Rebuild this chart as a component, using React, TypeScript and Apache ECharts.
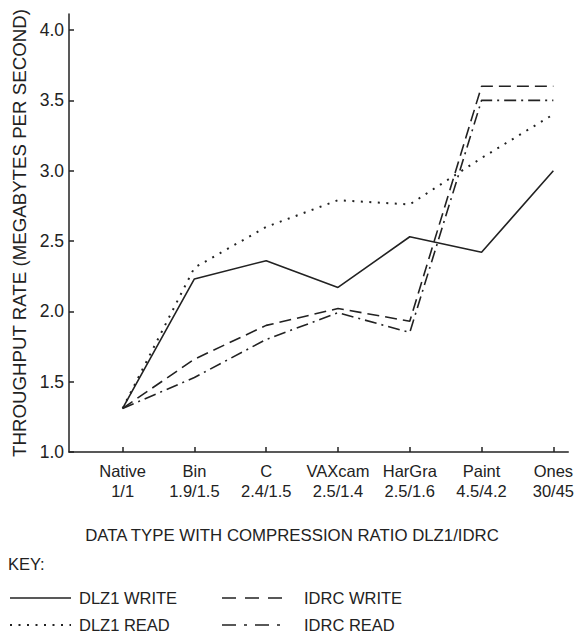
import React, { useEffect, useRef } from "react";
import * as echarts from "echarts";

const categories = ["Native", "Bin", "C", "VAXcam", "HarGra", "Paint", "Ones"];
const ratios = ["1/1", "1.9/1.5", "2.4/1.5", "2.5/1.4", "2.5/1.6", "4.5/4.2", "30/45"];
const yTicks = [1.0, 1.5, 2.0, 2.5, 3.0, 3.5, 4.0];

const seriesNames = ["DLZ1 WRITE", "DLZ1 READ", "IDRC WRITE", "IDRC READ"];
const dlz1Write = [1.31, 2.23, 2.36, 2.17, 2.53, 2.42, 3.0];
const dlz1Read = [1.31, 2.31, 2.6, 2.79, 2.76, 3.09, 3.4];
const idrcWrite = [1.31, 1.66, 1.9, 2.02, 1.93, 3.6, 3.6];
const idrcRead = [1.31, 1.53, 1.8, 1.99, 1.85, 3.5, 3.5];

const yTitle = "THROUGHPUT RATE (MEGABYTES PER SECOND)";
const xTitle = "DATA TYPE WITH COMPRESSION RATIO DLZ1/IDRC";
const keyTitle = "KEY:";

const FONT = '"Liberation Sans", Arial, Helvetica, sans-serif';
const INK = "#222";
const dashPatterns: number[][] = [[], [2, 6.5], [12, 6], [12, 5, 2, 5]];
const seriesWidths = [1.6, 2, 1.6, 1.6];
const legendDashPatterns: number[][] = [[], [2, 6.5], [14, 9], [14, 8, 3, 8]];

export default function App() {
  const ref = useRef<HTMLDivElement>(null);
  useEffect(() => {
    if (!ref.current) return;
    const chart = echarts.init(ref.current, undefined, { renderer: "svg" });
    const allValues = [dlz1Write, dlz1Read, idrcWrite, idrcRead];
    const idx = categories.map((_, i) => i);

    const legendItems: any[] = [];
    const legendPos = [
      { x: 10, y: 598 },
      { x: 10, y: 625 },
      { x: 222, y: 598 },
      { x: 222, y: 625 },
    ];
    seriesNames.forEach((name, i) => {
      const p = legendPos[i];
      const dash = legendDashPatterns[i];
      legendItems.push({
        type: "line",
        shape: { x1: p.x, y1: p.y, x2: p.x + 61, y2: p.y },
        style: {
          stroke: INK,
          lineWidth: seriesWidths[i],
          lineDash: dash.length ? dash : null,
        },
      });
      legendItems.push({
        type: "text",
        x: i < 2 ? p.x + 69 : p.x + 82,
        y: p.y,
        style: {
          text: name,
          font: `16.5px ${FONT}`,
          fill: INK,
          textAlign: "left",
          textVerticalAlign: "middle",
        },
      });
    });

    chart.setOption({
      animation: false,
      backgroundColor: "#fff",
      grid: { left: 69, right: 5, top: 14, bottom: 183 },
      xAxis: {
        type: "value",
        min: -0.7466,
        max: 6.2074,
        axisLine: { show: true, onZero: false, lineStyle: { color: INK, width: 1.5 } },
        axisTick: {
          show: true,
          inside: true,
          length: 5,
          customValues: idx,
          lineStyle: { color: INK, width: 1.5 },
        },
        axisLabel: {
          customValues: idx,
          formatter: (v: number) => `${categories[Math.round(v)]}\n${ratios[Math.round(v)]}`,
          margin: 9,
          fontSize: 16.5,
          lineHeight: 20,
          fontFamily: FONT,
          color: INK,
        },
        splitLine: { show: false },
      },
      yAxis: {
        type: "value",
        min: 1,
        max: 4.1137,
        name: yTitle,
        nameLocation: "middle",
        nameGap: 40,
        nameTextStyle: { fontSize: 18.7, fontFamily: FONT, color: INK },
        axisLine: { show: true, onZero: false, lineStyle: { color: INK, width: 1.5 } },
        axisTick: {
          show: true,
          inside: true,
          length: 5,
          customValues: yTicks,
          lineStyle: { color: INK, width: 1.5 },
        },
        axisLabel: {
          customValues: yTicks,
          formatter: (v: number) => v.toFixed(1),
          margin: 5,
          fontSize: 17.5,
          fontFamily: FONT,
          color: INK,
        },
        splitLine: { show: false },
      },
      series: allValues.map((vals, s) => ({
        name: seriesNames[s],
        type: "line",
        symbol: "none",
        data: vals.map((v, i) => [i, v]),
        lineStyle: {
          color: INK,
          width: seriesWidths[s],
          type: dashPatterns[s].length ? dashPatterns[s] : "solid",
        },
      })),
      graphic: [
        {
          type: "text",
          x: 292,
          y: 535,
          style: {
            text: xTitle,
            font: `16.8px ${FONT}`,
            fill: INK,
            textAlign: "center",
            textVerticalAlign: "middle",
          },
        },
        {
          type: "text",
          x: 8,
          y: 564,
          style: {
            text: keyTitle,
            font: `16.5px ${FONT}`,
            fill: INK,
            textAlign: "left",
            textVerticalAlign: "middle",
          },
        },
        ...legendItems,
      ],
    });
    return () => chart.dispose();
  }, []);
  return (
    <div
      ref={ref}
      style={{ position: "absolute", left: 0, top: 0, width: 577, height: 635 }}
    />
  );
}
